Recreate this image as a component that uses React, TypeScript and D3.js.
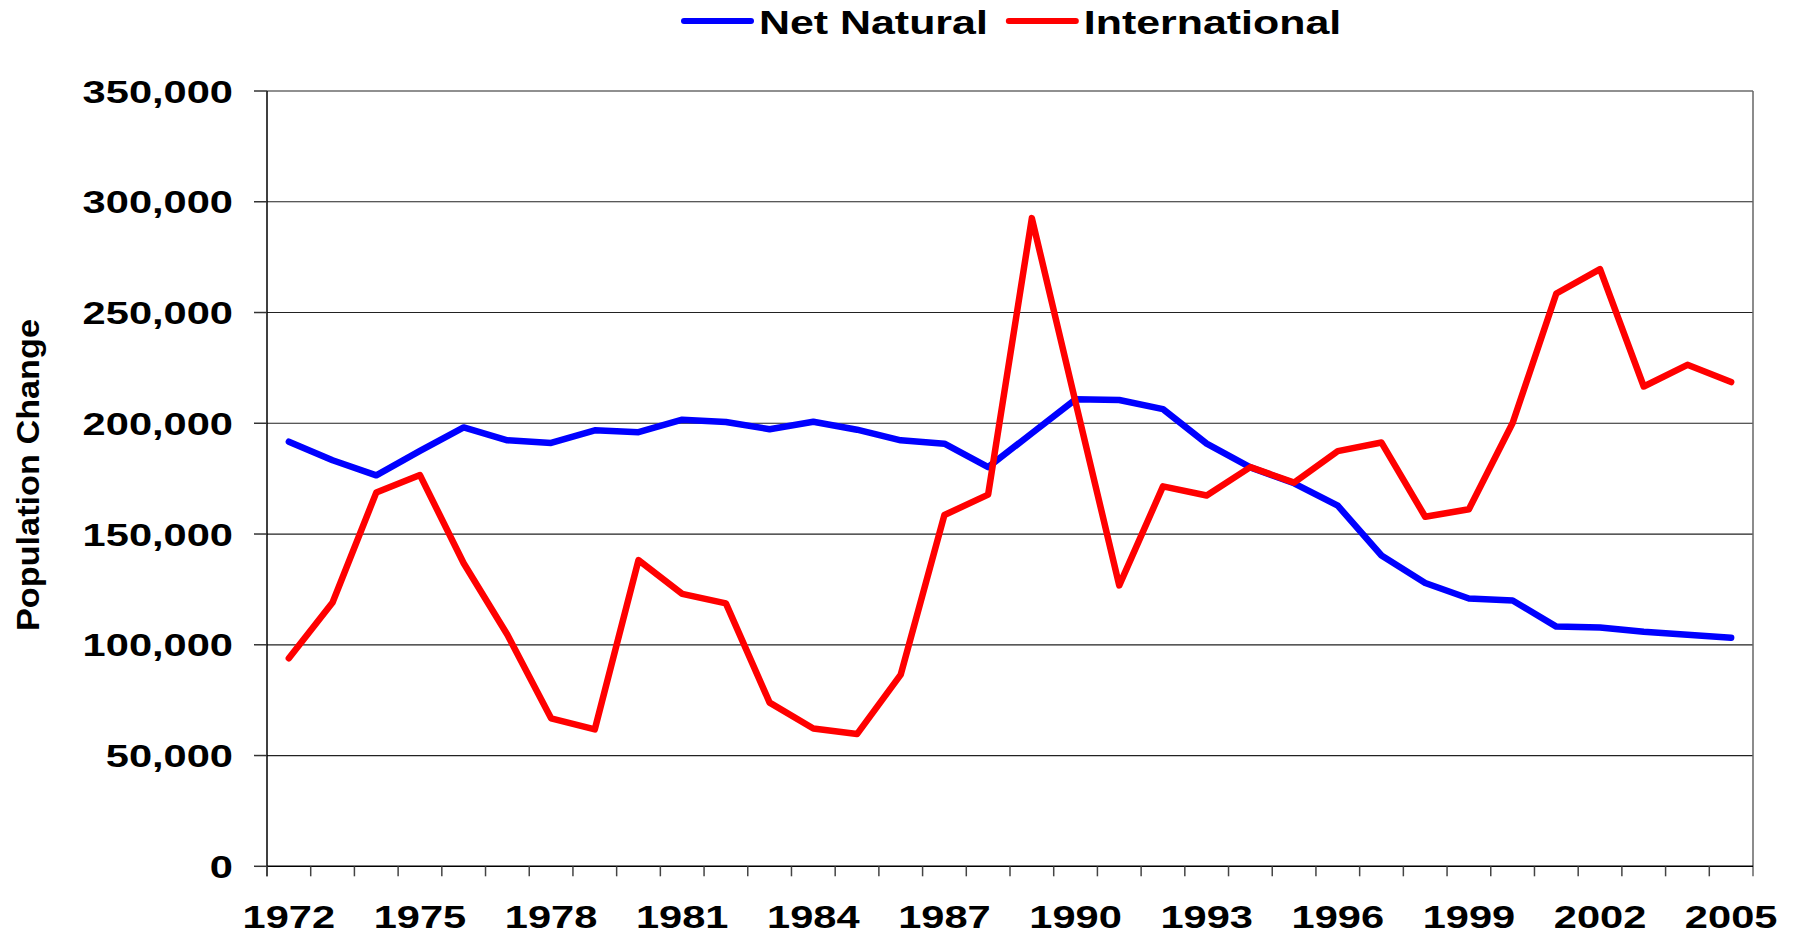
import React, { useEffect, useRef } from 'react';
import * as d3 from 'd3';

const years = [
  1972, 1973, 1974, 1975, 1976, 1977, 1978, 1979, 1980, 1981, 1982, 1983,
  1984, 1985, 1986, 1987, 1988, 1989, 1990, 1991, 1992, 1993, 1994, 1995,
  1996, 1997, 1998, 1999, 2000, 2001, 2002, 2003, 2004, 2005,
];

const netNatural = [
  191700, 183300, 176500, 187500, 198100, 192300, 191100, 196800, 196000,
  201600, 200600, 197300, 200700, 197100, 192300, 190800, 180200, 195500,
  210800, 210500, 206400, 190800, 180100, 172900, 162800, 140300, 127900,
  120900, 120000, 108200, 107800, 105900, 104500, 103200,
];

const international = [
  93900, 119100, 168700, 176600, 136800, 104500, 66800, 61800, 138200,
  123000, 118700, 73900, 62200, 59700, 86500, 158600, 167800, 292600,
  209500, 126800, 171500, 167400, 180200, 173200, 187400, 191300, 157800,
  161200, 200100, 258600, 269600, 216600, 226400, 218600,
];

const yTicks = [0, 50000, 100000, 150000, 200000, 250000, 300000, 350000];
const xLabels = [1972, 1975, 1978, 1981, 1984, 1987, 1990, 1993, 1996, 1999, 2002, 2005];

const series = [
  { name: 'Net Natural', color: '#0000ff', values: netNatural },
  { name: 'International', color: '#ff0000', values: international },
];

const FONT = '"Liberation Sans", Arial, sans-serif';
const STRETCH = 1.3; // the original image is stretched sideways

const App: React.FC = () => {
  const svgRef = useRef<SVGSVGElement>(null);

  useEffect(() => {
    if (!svgRef.current) return;
    const svg = d3.select(svgRef.current);
    svg.selectAll('*').remove();

    const left = 267, right = 1753, top = 91, bottom = 866.3;

    const x = d3.scaleBand<number>().domain(years).range([left, right]).padding(0);
    const y = d3.scaleLinear().domain([0, 350000]).range([bottom, top]);
    const cx = (yr: number) => (x(yr) || 0) + x.bandwidth() / 2;

    // gridlines
    svg.append('g')
      .selectAll('line')
      .data(yTicks.filter(d => d > 0))
      .enter()
      .append('line')
      .attr('x1', left)
      .attr('x2', right)
      .attr('y1', d => y(d))
      .attr('y2', d => y(d))
      .attr('stroke', '#222')
      .attr('stroke-width', 1.2);

    // right border
    svg.append('line')
      .attr('x1', right).attr('x2', right)
      .attr('y1', top).attr('y2', bottom + 10)
      .attr('stroke', '#666').attr('stroke-width', 1.5);

    // y axis
    svg.append('line')
      .attr('x1', left).attr('x2', left)
      .attr('y1', top).attr('y2', bottom + 10)
      .attr('stroke', '#000').attr('stroke-width', 1.5);

    svg.append('g')
      .selectAll('line')
      .data(yTicks)
      .enter()
      .append('line')
      .attr('x1', left - 13)
      .attr('x2', left)
      .attr('y1', d => y(d))
      .attr('y2', d => y(d))
      .attr('stroke', '#333')
      .attr('stroke-width', 1.5);

    const fmt = d3.format(',');
    svg.append('g')
      .selectAll('g')
      .data(yTicks)
      .enter()
      .append('g')
      .attr('transform', d => `translate(233,${y(d) + 11.5}) scale(${STRETCH},1)`)
      .append('text')
      .attr('text-anchor', 'end')
      .attr('font-family', FONT)
      .attr('font-weight', 'bold')
      .attr('font-size', 32)
      .attr('fill', '#000')
      .text(d => fmt(d));

    // x axis
    svg.append('line')
      .attr('x1', left).attr('x2', right)
      .attr('y1', bottom).attr('y2', bottom)
      .attr('stroke', '#000').attr('stroke-width', 1.5);

    const boundaries = years.map(yr => x(yr) || 0);
    svg.append('g')
      .selectAll('line')
      .data(boundaries)
      .enter()
      .append('line')
      .attr('x1', d => d)
      .attr('x2', d => d)
      .attr('y1', bottom)
      .attr('y2', bottom + 10)
      .attr('stroke', '#444')
      .attr('stroke-width', 1.5);

    svg.append('g')
      .selectAll('g')
      .data(xLabels)
      .enter()
      .append('g')
      .attr('transform', d => `translate(${cx(d)},928) scale(${STRETCH},1)`)
      .append('text')
      .attr('text-anchor', 'middle')
      .attr('font-family', FONT)
      .attr('font-weight', 'bold')
      .attr('font-size', 32)
      .attr('fill', '#000')
      .text(d => d);

    // y axis title
    svg.append('text')
      .attr('transform', 'translate(39,475) rotate(-90)')
      .attr('text-anchor', 'middle')
      .attr('font-family', FONT)
      .attr('font-weight', 'bold')
      .attr('font-size', 31)
      .attr('textLength', 312)
      .attr('lengthAdjust', 'spacingAndGlyphs')
      .attr('fill', '#000')
      .text('Population Change');

    // lines
    const line = d3.line<number>()
      .x((_, i) => cx(years[i]))
      .y(d => y(d));

    series.forEach(s => {
      svg.append('path')
        .datum(s.values)
        .attr('fill', 'none')
        .attr('stroke', s.color)
        .attr('stroke-width', 6.5)
        .attr('stroke-linejoin', 'round')
        .attr('stroke-linecap', 'round')
        .attr('d', line);
    });

    // legend
    const legend = svg.append('g');
    let lx = 684;
    series.forEach(s => {
      legend.append('line')
        .attr('x1', lx).attr('x2', lx + 67)
        .attr('y1', 21).attr('y2', 21)
        .attr('stroke', s.color)
        .attr('stroke-width', 6)
        .attr('stroke-linecap', 'round');
      const g = legend.append('g')
        .attr('transform', `translate(${lx + 75},34) scale(${STRETCH},1)`);
      const t = g.append('text')
        .attr('font-family', FONT)
        .attr('font-weight', 'bold')
        .attr('font-size', 33)
        .attr('fill', '#000')
        .text(s.name);
      const w = (t.node() as SVGTextElement).getComputedTextLength() * STRETCH;
      lx = lx + 75 + w + 21;
    });
  }, []);

  return (
    <svg
      ref={svgRef}
      width={1799}
      height={934}
      style={{ position: 'absolute', left: 0, top: 0, background: '#fff' }}
    />
  );
};

export default App;
